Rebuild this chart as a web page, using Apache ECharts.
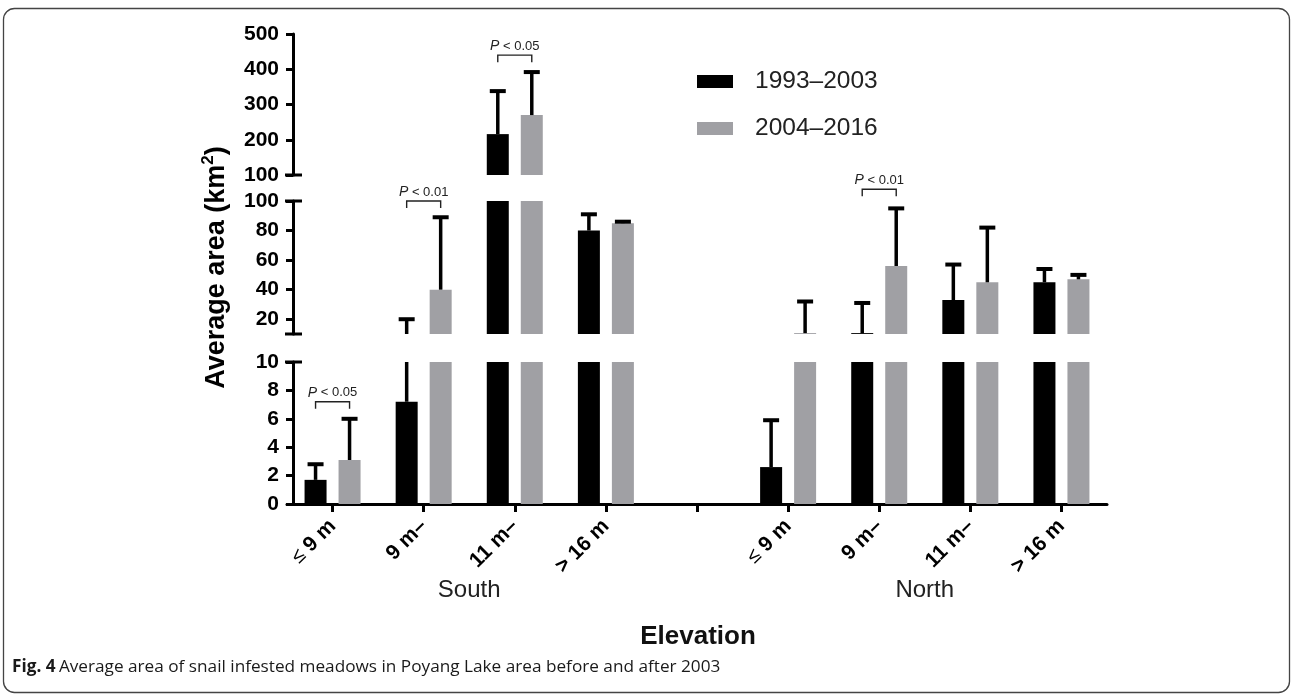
<!DOCTYPE html>
<html><head><meta charset="utf-8">
<script src="https://cdn.jsdelivr.net/npm/echarts@6/dist/echarts.min.js"></script>
<style>html,body{margin:0;padding:0;background:#fff}#c{width:1293px;height:697px}</style>
</head><body><div id="c"></div>
<script>
// ---------- data ----------
const categories = ['≤ 9 m', '9 m–', '11 m–', '> 16 m', '', '≤ 9 m', '9 m–', '11 m–', '> 16 m'];
const seriesNames = ['1993–2003', '2004–2016'];
const mean1  = [1.7, 7.2, 216, 80, null, 2.6, 10.6, 33, 45];
const upper1 = [2.8, 20, 338, 91, null, 5.9, 31, 57, 54];
const mean2  = [3.1, 40, 270, 85, null, 10.6, 56, 45, 47];
const upper2 = [6.0, 89, 392, 86, null, 32, 95, 82, 50];
const topTicks = [100, 200, 300, 400, 500];
const midTicks = [20, 40, 60, 80, 100];
const lowTicks = [0, 2, 4, 6, 8, 10];
const segMin = [100, 10, 0];
const segMax = [500, 100, 10];
// [category index, segment index, y value, label]
const pBrackets = [
  [0, 2, 7.2, ' < 0.05'],
  [1, 1, 100, ' < 0.01'],
  [2, 0, 440, ' < 0.05'],
  [6, 1, 108, ' < 0.01']
];
const groupLabels = ['South', 'North'];
const groupSpans = [[1, 2], [6, 7]]; // group labels sit midway between these categories
const xTitle = 'Elevation';
const caption = 'Average area of snail infested meadows in Poyang Lake area before and after 2003';

// ---------- layout / style ----------
const FONT = '"Liberation Sans", Arial, sans-serif';
const colors = ['#000000', '#a0a0a4'];
const BAR_W = 22, BAR_GAP = 12;
const gridTops = [34, 201, 362];
const gridHeights = [141, 133, 142];
const GRID_LEFT = 287, GRID_W = 820;
const tickSets = [topTicks, midTicks, lowTicks];

const chart = echarts.init(document.getElementById('c'), null, {renderer: 'canvas'});

const grids = [], xAxes = [], yAxes = [], series = [];
for (let g = 0; g < 3; g++) {
  grids.push({left: GRID_LEFT, top: gridTops[g], width: GRID_W, height: gridHeights[g], containLabel: false});
  const isBottom = g === 2;
  xAxes.push({
    type: 'category', gridIndex: g, data: categories, show: isBottom,
    boundaryGap: true,
    axisLine: {show: isBottom, onZero: false, lineStyle: {color: '#000', width: 3}},
    axisTick: {show: isBottom, alignWithLabel: true, length: 8, lineStyle: {color: '#000', width: 3}},
    axisLabel: {
      show: isBottom, interval: 0, rotate: 45, margin: 19,
      formatter: function (v) {
        if (v.charAt(0) === '≤') return '{t|≤}{b|' + v.slice(1) + '}';
        return '{b|' + v + '}';
      },
      rich: {
        t: {fontSize: 20, fontWeight: 'normal', color: '#000', fontFamily: FONT},
        b: {fontSize: 21, fontWeight: 'bold', color: '#000', fontFamily: FONT}
      }
    },
    splitLine: {show: false}
  });
  const y = {
    type: 'value', gridIndex: g, min: segMin[g], max: segMax[g], offset: -6,
    axisLine: {show: true, lineStyle: {color: '#000', width: 3}},
    axisTick: {show: true, length: 7, lineStyle: {color: '#000', width: 3}, customValues: tickSets[g]},
    axisLabel: {show: true, margin: 14, fontSize: 21, fontWeight: 'bold', color: '#000', fontFamily: FONT, customValues: tickSets[g]},
    splitLine: {show: false}
  };
  if (g === 1) {
    y.name = '{a|Average area (km}{s|2}{a|)}';
    y.nameLocation = 'middle';
    y.nameRotate = 90;
    y.nameGap = 59;
    y.nameTextStyle = {
      rich: {
        a: {fontSize: 27, fontWeight: 'bold', color: '#000', fontFamily: FONT, lineHeight: 34},
        s: {fontSize: 17, fontWeight: 'bold', color: '#000', fontFamily: FONT, verticalAlign: 'top', lineHeight: 34}
      }
    };
  }
  yAxes.push(y);

  const means = [mean1, mean2];
  for (let k = 0; k < 2; k++) {
    series.push({
      type: 'bar', name: seriesNames[k], xAxisIndex: g, yAxisIndex: g,
      data: means[k], barWidth: BAR_W, barGap: (BAR_GAP / BAR_W * 100) + '%',
      itemStyle: {color: colors[k]}, clip: true, z: 2, silent: true
    });
  }
  // error bars (upper only)
  const errData = [];
  [[mean1, upper1], [mean2, upper2]].forEach(([m, u], k) => {
    m.forEach((v, i) => { if (v != null) errData.push([i, v, u[i], k]); });
  });
  series.push({
    type: 'custom', xAxisIndex: g, yAxisIndex: g, data: errData, z: 5, silent: true,
    encode: {x: 0, y: 1},
    renderItem: function (params, api) {
      const idx = api.value(0), m = api.value(1), u = api.value(2), k = api.value(3);
      const cs = params.coordSys;
      const off = (k === 0 ? -1 : 1) * (BAR_W + BAR_GAP) / 2;
      const pm = api.coord([idx, m]), pu = api.coord([idx, u]);
      const x = pm[0] + off;
      const top = cs.y, bot = cs.y + cs.height;
      const ya = Math.min(bot, Math.max(top, pm[1]));
      const yb = Math.min(bot, Math.max(top, pu[1]));
      const ch = [];
      if (ya - yb > 0.5) ch.push({type: 'line', shape: {x1: x, y1: ya, x2: x, y2: yb}, style: {stroke: '#000', lineWidth: 3.5}});
      if (pu[1] >= top - 0.5 && pu[1] <= bot + 0.5) ch.push({type: 'rect', shape: {x: x - 8, y: pu[1] - 2, width: 16, height: 4}, style: {fill: '#000'}});
      return {type: 'group', children: ch};
    }
  });
  // break marks on the y axis
  series.push({
    type: 'custom', xAxisIndex: g, yAxisIndex: g, data: [[0, segMin[g]]], z: 6, silent: true,
    renderItem: function (params, api) {
      const cs = params.coordSys;
      const ax = cs.x + 6;
      const ch = [];
      const edges = g === 0 ? [cs.y + cs.height] : g === 1 ? [cs.y, cs.y + cs.height] : [cs.y];
      edges.forEach(yy => ch.push({type: 'line', shape: {x1: ax - 8, y1: yy, x2: ax + 9, y2: yy}, style: {stroke: '#000', lineWidth: 3}}));
      return {type: 'group', children: ch};
    }
  });
  // significance brackets
  const pb = pBrackets.filter(p => p[1] === g).map(p => [p[0], p[2], p[3]]);
  if (pb.length) {
    series.push({
      type: 'custom', xAxisIndex: g, yAxisIndex: g, data: pb, z: 7, silent: true, clip: false,
      encode: {x: 0, y: 1},
      renderItem: function (params, api) {
        const idx = api.value(0), v = api.value(1);
        const lab = pb[params.dataIndex][2];
        const p = api.coord([idx, v]);
        const d = (BAR_W + BAR_GAP) / 2;
        return {type: 'group', children: [
          {type: 'polyline', shape: {points: [[p[0] - d, p[1] + 7], [p[0] - d, p[1]], [p[0] + d, p[1]], [p[0] + d, p[1] + 7]]},
           style: {stroke: '#222', lineWidth: 1.4, fill: null}},
          {type: 'text', x: p[0], y: p[1] - 2, style: {
            text: '{i|P}{n|' + lab + '}', align: 'center', verticalAlign: 'bottom',
            rich: {i: {fontStyle: 'italic', fontSize: 14, fontFamily: FONT, fill: '#222'},
                   n: {fontSize: 13, fontFamily: FONT, fill: '#222'}}
          }}
        ]};
      }
    });
  }
}

// group labels under the x axis, centred between their middle categories
series.push({
  type: 'custom', xAxisIndex: 2, yAxisIndex: 2, data: groupSpans.map((s, i) => [s[0], 0, i]),
  z: 8, silent: true, clip: false, encode: {x: 0, y: 1},
  renderItem: function (params, api) {
    const i = api.value(2);
    const a = api.coord([groupSpans[i][0], 0]), b = api.coord([groupSpans[i][1], 0]);
    return {type: 'text', x: (a[0] + b[0]) / 2, y: a[1] + 86, style: {
      text: groupLabels[i], align: 'center', verticalAlign: 'middle',
      fontSize: 24, fontFamily: FONT, fill: '#222'}};
  }
});

chart.setOption({
  animation: false,
  backgroundColor: '#fff',
  grid: grids, xAxis: xAxes, yAxis: yAxes, series: series,
  legend: {
    data: seriesNames, orient: 'vertical', left: 697, top: 68.5, padding: 0,
    itemWidth: 36, itemHeight: 13, itemGap: 21, icon: 'rect', selectedMode: false,
    textStyle: {fontSize: 24.5, color: '#222', fontFamily: FONT, lineHeight: 26, padding: [0, 0, 0, 17]}
  },
  graphic: [
    {type: 'rect', shape: {x: 3.5, y: 8.5, width: 1286, height: 684, r: 11}, style: {fill: null, stroke: '#444', lineWidth: 1.3}, silent: true},
    {type: 'text', x: 698, y: 637, style: {text: xTitle, align: 'center', verticalAlign: 'middle', fontSize: 26, fontWeight: 'bold', fontFamily: FONT, fill: '#111'}},
    {type: 'text', x: 12, y: 667, style: {
      text: '{b|Fig. 4} {r|' + caption + '}', verticalAlign: 'middle',
      rich: {b: {fontSize: 17.2, fontWeight: 'bold', fontFamily: '"Open Sans", sans-serif', fill: '#1a1a1a'},
             r: {fontSize: 17.2, fontFamily: '"Open Sans", sans-serif', fill: '#1a1a1a'}}
    }}
  ]
});
</script>
</body></html>
